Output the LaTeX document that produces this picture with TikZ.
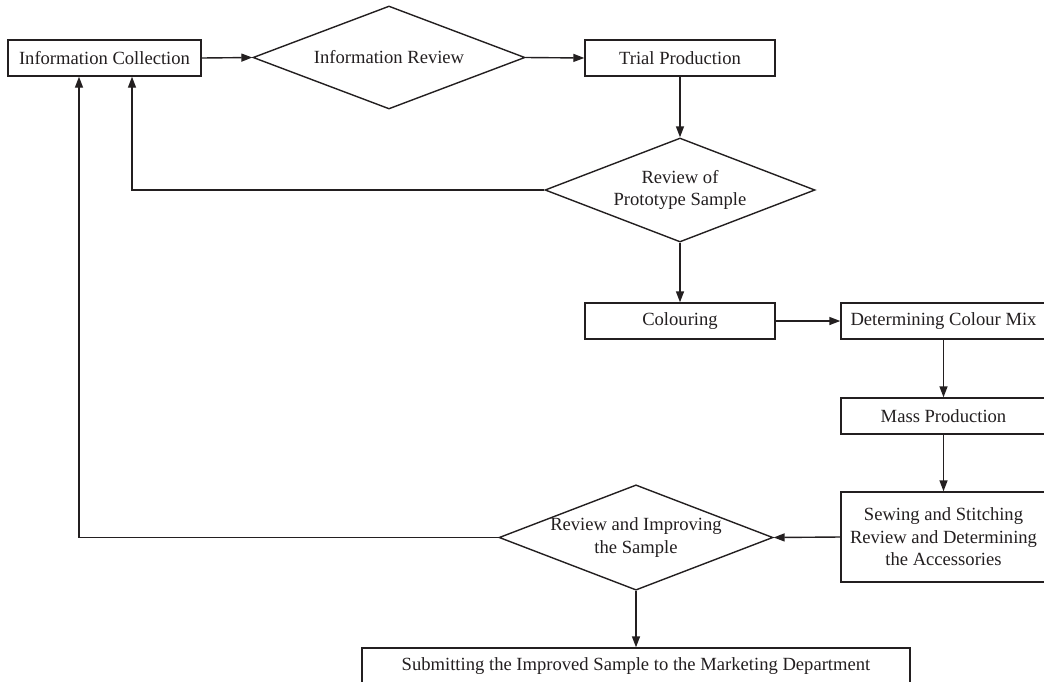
\documentclass[tikz,border=0pt]{standalone}
\usepackage{fontspec}
\setmainfont{Liberation Serif}
\usetikzlibrary{shapes.geometric,arrows.meta}
\definecolor{ink}{HTML}{231F20}
\begin{document}
\begin{tikzpicture}[x=1pt,y=-1pt,
  every node/.style={font=\fontsize{18.6}{22.5}\selectfont, text=ink},
  box/.style={draw=ink, line width=1.4pt, rectangle, inner sep=0pt, align=center, minimum height=36pt},
  dia/.style={draw=ink, line width=1.4pt, diamond, aspect=2.6, inner sep=0pt, align=center},
  arr/.style={draw=ink, line width=1.4pt, -{Triangle[length=11pt,width=8pt]}}]
\useasboundingbox (0,0) rectangle (1044,681);
\clip (0,0) rectangle (1044,681);
\fill[white] (0,0) rectangle (1044,681);

\node[box, minimum width=193pt] (ic) at (104.5,58) {Information Collection};
\node[dia, minimum width=272pt, minimum height=103pt] (ir) at (389,57.5) {Information Review};
\node[box, minimum width=190pt] (tp) at (680,58) {Trial Production};
\node[dia, minimum width=270pt, minimum height=104pt] (rp) at (680,190) {Review of\\Prototype Sample};
\node[box, minimum width=190pt] (col) at (680,321) {Colouring};
\node[box, minimum width=205pt] (dcm) at (943.5,321) {Determining Colour Mix};
\node[box, minimum width=205pt] (mp) at (943.5,416) {Mass Production};
\node[box, minimum width=205pt, minimum height=90pt] (sew) at (943.5,537) {Sewing and Stitching\\Review and Determining\\the Accessories};
\node[dia, minimum width=271pt, minimum height=105pt] (ri) at (636,537.5) {Review and Improving\\the Sample};
\node[box, minimum width=548pt] (sub) at (636,666) {Submitting the Improved Sample to the Marketing Department};

\draw[arr] (ic.east) -- (ir.west);
\draw[arr] (ir.east) -- (tp.west);
\draw[arr] (tp.south) -- (rp.north);
\draw[arr] (rp.west) -| ([xshift=27.5pt]ic.south);
\draw[arr] (rp.south) -- (col.north);
\draw[arr] (col.east) -- (dcm.west);
\draw[arr] (dcm.south) -- (mp.north);
\draw[arr] (mp.south) -- (sew.north);
\draw[arr] (sew.west) -- (ri.east);
\draw[arr] (ri.west) -| ([xshift=-25.5pt]ic.south);
\draw[arr] (ri.south) -- (sub.north);
\end{tikzpicture}
\end{document}
